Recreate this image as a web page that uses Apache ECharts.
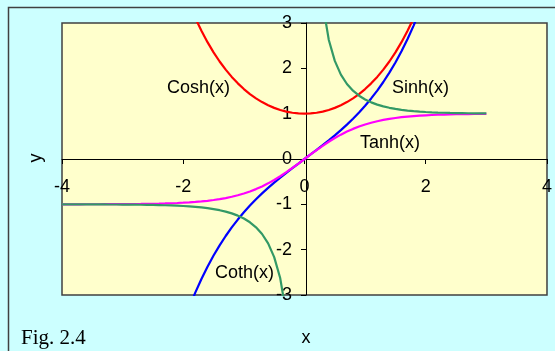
<!DOCTYPE html>
<html><head><meta charset="utf-8">
<script src="https://cdn.jsdelivr.net/npm/echarts@6/dist/echarts.min.js"></script>
<style>html,body{margin:0;padding:0;background:#CCFFFF;}#c{width:555px;height:351px;}</style>
</head><body><div id="c"></div>
<script>
// x values for the hyperbolic sine / cosine (-2 .. 2, step 0.1)
const xMid = [-2.0,-1.9,-1.8,-1.7,-1.6,-1.5,-1.4,-1.3,-1.2,-1.1,-1.0,-0.9,-0.8,-0.7,-0.6,-0.5,-0.4,-0.3,-0.2,-0.1,0.0,
  0.1,0.2,0.3,0.4,0.5,0.6,0.7,0.8,0.9,1.0,1.1,1.2,1.3,1.4,1.5,1.6,1.7,1.8,1.9,2.0];
const coshVals = [3.7622,3.4177,3.1075,2.8283,2.5775,2.3524,2.1509,1.9709,1.8107,1.6685,1.5431,1.4331,1.3374,1.2552,1.1855,1.1276,1.0811,1.0453,1.0201,1.0050,1.0000,
  1.0050,1.0201,1.0453,1.0811,1.1276,1.1855,1.2552,1.3374,1.4331,1.5431,1.6685,1.8107,1.9709,2.1509,2.3524,2.5775,2.8283,3.1075,3.4177,3.7622];
const sinhVals = [-3.6269,-3.2682,-2.9422,-2.6456,-2.3756,-2.1293,-1.9043,-1.6984,-1.5095,-1.3356,-1.1752,-1.0265,-0.8881,-0.7586,-0.6367,-0.5211,-0.4108,-0.3045,-0.2013,-0.1002,0.0000,
  0.1002,0.2013,0.3045,0.4108,0.5211,0.6367,0.7586,0.8881,1.0265,1.1752,1.3356,1.5095,1.6984,1.9043,2.1293,2.3756,2.6456,2.9422,3.2682,3.6269];
// x values for tanh / coth (-4 .. 3, step 0.1)
const xFull = [-4.0,-3.9,-3.8,-3.7,-3.6,-3.5,-3.4,-3.3,-3.2,-3.1,-3.0,-2.9,-2.8,-2.7,-2.6,-2.5,-2.4,-2.3,-2.2,-2.1,
  -2.0,-1.9,-1.8,-1.7,-1.6,-1.5,-1.4,-1.3,-1.2,-1.1,-1.0,-0.9,-0.8,-0.7,-0.6,-0.5,-0.4,-0.3,-0.2,-0.1,0.0,
  0.1,0.2,0.3,0.4,0.5,0.6,0.7,0.8,0.9,1.0,1.1,1.2,1.3,1.4,1.5,1.6,1.7,1.8,1.9,2.0,
  2.1,2.2,2.3,2.4,2.5,2.6,2.7,2.8,2.9,3.0];
const tanhVals = [-0.9993,-0.9992,-0.9990,-0.9988,-0.9985,-0.9982,-0.9978,-0.9973,-0.9967,-0.9959,-0.9951,-0.9940,-0.9926,-0.9910,-0.9890,-0.9866,-0.9837,-0.9801,-0.9757,-0.9705,
  -0.9640,-0.9562,-0.9468,-0.9354,-0.9217,-0.9051,-0.8854,-0.8617,-0.8337,-0.8005,-0.7616,-0.7163,-0.6640,-0.6044,-0.5370,-0.4621,-0.3799,-0.2913,-0.1974,-0.0997,0.0000,
  0.0997,0.1974,0.2913,0.3799,0.4621,0.5370,0.6044,0.6640,0.7163,0.7616,0.8005,0.8337,0.8617,0.8854,0.9051,0.9217,0.9354,0.9468,0.9562,0.9640,
  0.9705,0.9757,0.9801,0.9837,0.9866,0.9890,0.9910,0.9926,0.9940,0.9951];
const cothVals = [-1.0007,-1.0008,-1.0010,-1.0012,-1.0015,-1.0018,-1.0022,-1.0027,-1.0033,-1.0041,-1.0050,-1.0061,-1.0075,-1.0091,-1.0111,-1.0135,-1.0166,-1.0203,-1.0249,-1.0304,
  -1.0373,-1.0458,-1.0562,-1.0691,-1.0850,-1.1048,-1.1295,-1.1605,-1.1995,-1.2492,-1.3130,-1.3961,-1.5061,-1.6546,-1.8620,-2.1640,-2.6319,-3.4327,null,null,null,
  null,null,3.4327,2.6319,2.1640,1.8620,1.6546,1.5061,1.3961,1.3130,1.2492,1.1995,1.1605,1.1295,1.1048,1.0850,1.0691,1.0562,1.0458,1.0373,
  1.0304,1.0249,1.0203,1.0166,1.0135,1.0111,1.0091,1.0075,1.0061,1.0050];
const seriesNames = ['Sinh(x)','Cosh(x)','Tanh(x)','Coth(x)'];
const xTicks = [-4,-2,0,2,4];
const yTicks = [-3,-2,-1,0,1,2,3];

function pairs(xs, ys){ return xs.map((x,i)=>[x, ys[i]]); }

const G = {left:62, top:23, width:488, height:272};
const xMin = xTicks[0], xMax = xTicks[xTicks.length-1];
const yMin = yTicks[0], yMax = yTicks[yTicks.length-1];
// axes cross at zero: shift them from the grid edge to the zero line
const xAxisOffset = -G.height * (0 - yMin) / (yMax - yMin);
const yAxisOffset = -G.width * (0 - xMin) / (xMax - xMin);

const chart = echarts.init(document.getElementById('c'), null, {renderer:'canvas'});
const font = 'Liberation Sans, Arial, sans-serif';
const lineSeries = (name, xs, ys, color) => ({
  name, type:'line', data: pairs(xs, ys), showSymbol:false, symbol:'none', clip:true,
  lineStyle:{color, width:2.2}, connectNulls:false, z:3, animation:false
});
chart.setOption({
  backgroundColor:'#CCFFFF',
  animation:false,
  grid:Object.assign({show:true, backgroundColor:'#FFFFCC', borderColor:'#404040', borderWidth:1.5}, G),
  xAxis:{type:'value', min:xMin, max:xMax, interval:2, position:'bottom', offset:xAxisOffset,
    axisLine:{onZero:false, lineStyle:{color:'#000', width:1}},
    axisTick:{show:true, inside:false, length:5, lineStyle:{color:'#000'}},
    axisLabel:{color:'#000', fontFamily:font, fontSize:18, margin:19, showMinLabel:true, showMaxLabel:true},
    splitLine:{show:false}},
  yAxis:{type:'value', min:yMin, max:yMax, interval:1, position:'left', offset:yAxisOffset,
    axisLine:{onZero:false, lineStyle:{color:'#000', width:1}},
    axisTick:{show:true, inside:false, length:5, lineStyle:{color:'#000'}},
    axisLabel:{color:'#000', fontFamily:font, fontSize:18, margin:14, showMinLabel:true, showMaxLabel:true},
    splitLine:{show:false}},
  series:[
    lineSeries(seriesNames[0], xMid, sinhVals, '#0000FF'),
    lineSeries(seriesNames[1], xMid, coshVals, '#FF0000'),
    lineSeries(seriesNames[2], xFull, tanhVals, '#FF00FF'),
    lineSeries(seriesNames[3], xFull, cothVals, '#339966')
  ],
  graphic:[
    {type:'rect', z:-10, shape:{x:8.5, y:7.5, width:560, height:360}, style:{fill:'none', stroke:'#404040', lineWidth:1.5}},
    {type:'text', left:167, top:79, style:{text:seriesNames[1], font:'18px '+font, fill:'#000'}},
    {type:'text', left:392, top:79, style:{text:seriesNames[0], font:'18px '+font, fill:'#000'}},
    {type:'text', left:360, top:134, style:{text:seriesNames[2], font:'18px '+font, fill:'#000'}},
    {type:'text', left:215, top:264, style:{text:seriesNames[3], font:'18px '+font, fill:'#000'}},
    {type:'text', x:36, y:158, rotation:Math.PI/2, style:{text:'y', font:'18px '+font, fill:'#000', align:'center', verticalAlign:'middle'}},
    {type:'text', x:306, y:338, style:{text:'x', font:'18px '+font, fill:'#000', align:'center', verticalAlign:'middle'}},
    {type:'text', x:21, y:338, style:{text:'Fig. 2.4', font:'21px Liberation Serif, Times New Roman, serif', fill:'#000', align:'left', verticalAlign:'middle'}}
  ]
});
</script></body></html>
